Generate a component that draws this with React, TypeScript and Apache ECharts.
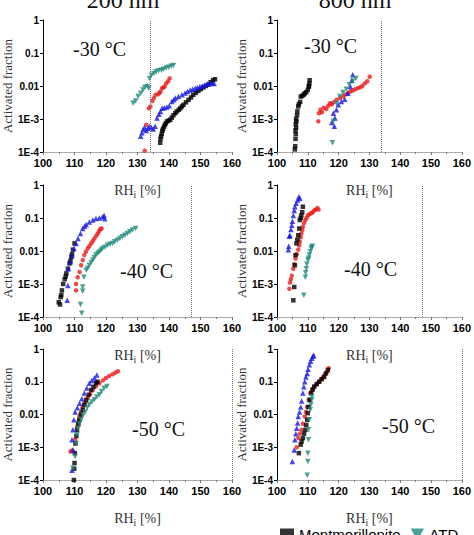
import React, { useEffect, useRef } from 'react';
import * as echarts from 'echarts';

// ---------- labels ----------
const sizeTitles = ['200 nm', '800 nm'];
const tempLabels = ['-30 °C', '-40 °C', '-50 °C'];
const waterSatRH = [134, 147, 160];
const yTickLabels: Record<string, string> = { '0': '1', '-1': '0.1', '-2': '0.01', '-3': '1E-3', '-4': '1E-4' };
const legendNames = ['Montmorillonite', 'ATD'];

// ---------- 200 nm, -30 °C ----------
const mont200_30 = [[137.2,1.9e-4],[137.3,2.5e-4],[137.5,3.0e-4],[137.7,3.6e-4],[137.9,4.4e-4],[138.1,5.0e-4],[138.4,5.8e-4],[138.7,6.6e-4],[139.0,7.5e-4],[139.4,8.5e-4],[139.9,9.0e-4],[140.4,9.5e-4],[140.9,1.1e-3],[141.4,1.3e-3],[142.0,1.5e-3],[142.5,1.7e-3],[143.1,1.9e-3],[143.6,2.1e-3],[144.1,2.4e-3],[144.6,2.7e-3],[145.4,3.2e-3],[146.2,3.8e-3],[147.0,4.5e-3],[147.7,5.4e-3],[148.5,6.2e-3],[149.3,7.1e-3],[150.1,8.0e-3],[150.9,9.0e-3],[151.7,1.0e-2],[152.5,1.1e-2],[153.2,1.3e-2],[154.0,1.5e-2],[154.6,1.6e-2]];
const ill200_30 = [[131.0,3.0e-4],[131.4,3.8e-4],[131.8,4.8e-4],[132.2,5.5e-4],[132.8,4.5e-4],[133.3,5.2e-4],[133.8,6.0e-4],[134.4,5.5e-4],[135.0,5.0e-4],[135.6,6.0e-4],[136.2,1.07e-3],[136.8,1.4e-3],[137.3,1.7e-3],[137.8,2.1e-3],[138.5,2.2e-3],[139.3,2.3e-3],[140.1,2.5e-3],[140.9,3.4e-3],[141.5,3.8e-3],[142.0,4.3e-3],[143.0,4.8e-3],[144.1,5.4e-3],[145.1,6.1e-3],[145.9,6.8e-3],[146.7,7.6e-3],[147.5,8.0e-3],[148.3,8.6e-3],[149.0,9.0e-3],[149.8,9.6e-3],[150.6,1.0e-2],[151.4,1.1e-2],[152.2,1.15e-2],[153.0,1.2e-2],[153.7,1.25e-2],[154.3,1.2e-2]];
const kaol200_30 = [[132.3,1.1e-4],[132.8,6.7e-4],[133.6,2.1e-3],[134.1,2.4e-3],[134.7,3.5e-3],[135.2,4.3e-3],[135.7,5.4e-3],[136.5,5.6e-3],[137.0,6.2e-3],[137.3,6.8e-3],[137.8,8.6e-3],[138.2,9.0e-3],[138.6,9.6e-3],[139.1,1.2e-2],[139.7,1.4e-2],[140.2,1.7e-2]];
const atd200_30 = [[128.6,3.0e-3],[129.4,3.5e-3],[130.2,4.8e-3],[131.0,6.0e-3],[131.7,7.6e-3],[132.3,9.0e-3],[133.1,9.6e-3],[133.6,8.6e-3],[133.8,1.7e-2],[134.4,2.1e-2],[135.2,2.4e-2],[135.9,2.7e-2],[136.7,2.9e-2],[137.6,3.0e-2],[138.3,3.2e-2],[139.1,3.5e-2],[139.9,3.7e-2],[140.7,4.0e-2],[141.4,4.2e-2]];

// ---------- 800 nm, -30 °C ----------
const mont800_30 = [[105.8,1.2e-4],[105.9,1.5e-4],[106.0,2.5e-4],[106.1,3.5e-4],[106.0,4.5e-4],[106.2,5.5e-4],[106.1,7.0e-4],[106.3,8.5e-4],[106.2,1.0e-3],[106.5,1.3e-3],[106.6,1.7e-3],[106.9,2.4e-3],[107.1,2.8e-3],[107.5,3.3e-3],[107.7,4.8e-3],[108.2,5.0e-3],[108.7,5.5e-3],[109.0,6.0e-3],[109.5,6.5e-3],[110.0,7.6e-3],[110.4,1.0e-2],[110.3,9.5e-3],[110.5,1.2e-2],[110.6,1.5e-2]];
const ill800_30 = [[117.8,7.9e-4],[118.6,6.0e-4],[118.8,1.07e-3],[118.3,1.5e-3],[119.3,1.9e-3],[119.9,2.7e-3],[120.9,3.4e-3],[122.0,4.0e-3],[123.0,6.0e-3],[123.8,9.6e-3],[124.3,1.5e-2],[124.6,2.2e-2]];
const kaol800_30 = [[113.4,8.5e-4],[113.6,1.5e-3],[114.1,1.9e-3],[114.6,1.6e-3],[115.2,2.2e-3],[116.0,2.0e-3],[116.6,2.5e-3],[117.2,3.0e-3],[117.8,2.8e-3],[118.3,3.2e-3],[119.3,3.8e-3],[120.4,4.3e-3],[121.4,4.8e-3],[122.2,5.5e-3],[123.0,6.0e-3],[123.8,6.8e-3],[124.6,7.3e-3],[125.4,8.0e-3],[126.2,8.6e-3],[127.0,9.2e-3],[127.7,1.0e-2],[128.5,1.2e-2],[129.3,1.4e-2],[130.1,1.9e-2]];
const atd800_30 = [[118.0,1.9e-4],[118.3,8.5e-4],[119.3,3.0e-3],[120.4,4.8e-3],[121.4,6.3e-3],[122.5,8.0e-3],[123.5,1.1e-2],[124.6,1.4e-2],[125.6,1.7e-2]];

// ---------- 200 nm, -40 °C ----------
const mont200_40 = [[105.0,2.8e-4],[105.4,2.4e-4],[105.6,4.0e-4],[105.8,4.6e-4],[106.0,6.4e-4],[106.4,1.0e-3],[106.9,1.4e-3],[107.2,1.7e-3],[107.4,2.1e-3],[107.9,2.9e-3],[108.4,4.2e-3],[108.7,5.0e-3],[109.0,6.6e-3],[109.2,8.0e-3],[109.5,1.1e-2],[110.0,1.7e-2]];
const ill200_40 = [[107.7,3.2e-4],[107.9,9.0e-4],[108.1,2.9e-3],[108.7,4.7e-3],[109.2,7.5e-3],[109.8,1.2e-2],[110.5,1.7e-2],[111.1,2.4e-2],[111.9,3.4e-2],[112.6,4.8e-2],[113.2,5.6e-2],[113.7,6.4e-2],[114.7,7.6e-2],[115.8,8.7e-2],[116.8,9.7e-2],[117.9,0.10],[118.9,0.11],[119.4,0.12],[119.6,0.095]];
const kaol200_40 = [[110.5,6.4e-4],[110.5,1.0e-3],[111.0,1.6e-3],[111.6,2.3e-3],[112.1,3.7e-3],[112.6,5.3e-3],[113.1,7.5e-3],[113.6,9.5e-3],[114.2,1.2e-2],[114.7,1.4e-2],[115.3,1.7e-2],[115.8,2.0e-2],[116.3,2.4e-2],[116.9,2.9e-2],[117.4,3.4e-2],[117.8,4.0e-2],[118.2,4.6e-2],[118.6,4.8e-2]];
const atd200_40 = [[112.3,1.3e-4],[111.9,2.4e-4],[112.6,6.0e-4],[112.6,8.1e-4],[113.0,1.6e-3],[113.7,2.6e-3],[114.2,3.0e-3],[114.7,3.7e-3],[115.3,4.5e-3],[115.8,5.3e-3],[116.3,6.3e-3],[116.8,7.5e-3],[117.4,8.5e-3],[117.9,9.4e-3],[118.4,1.05e-2],[118.9,1.2e-2],[119.7,1.3e-2],[120.5,1.5e-2],[121.3,1.6e-2],[122.1,1.7e-2],[122.8,1.9e-2],[123.6,2.1e-2],[124.4,2.4e-2],[125.2,2.7e-2],[126.0,3.0e-2],[126.8,3.4e-2],[127.6,3.8e-2],[128.4,4.3e-2],[129.4,4.8e-2]];

// ---------- 800 nm, -40 °C ----------
const mont800_40 = [[105.3,3.2e-4],[105.6,8.1e-4],[105.8,3.7e-3],[106.0,7.5e-3],[106.3,1.7e-2],[106.6,2.2e-2],[106.9,3.0e-2],[107.2,4.8e-2],[107.4,8.7e-2],[107.7,0.10],[107.9,0.12],[108.2,0.15],[108.4,0.22]];
const ill800_40 = [[103.7,1.1e-2],[103.8,1.4e-2],[104.0,2.8e-2],[104.2,3.0e-2],[104.5,4.5e-2],[104.8,6.0e-2],[105.0,8.0e-2],[105.3,0.12],[105.6,0.17],[105.8,0.22],[106.2,0.28],[106.7,0.35],[107.1,0.44],[107.4,0.40]];
const kaol800_40 = [[104.0,7.2e-4],[104.2,1.1e-3],[104.5,1.4e-3],[104.8,1.8e-3],[105.3,2.9e-3],[105.6,4.0e-3],[106.0,5.9e-3],[106.4,8.0e-3],[106.9,1.1e-2],[107.2,1.5e-2],[107.4,1.9e-2],[107.7,2.6e-2],[107.9,3.4e-2],[108.2,4.3e-2],[108.4,5.4e-2],[108.8,7.0e-2],[109.2,8.7e-2],[109.6,0.10],[110.0,0.12],[110.5,0.13],[111.1,0.14],[111.6,0.15],[112.1,0.17],[112.6,0.18],[113.1,0.20],[113.5,0.18]];
const atd800_40 = [[108.7,4.6e-4],[109.2,1.6e-3],[109.3,2.2e-3],[109.5,2.9e-3],[109.7,4.0e-3],[110.0,5.3e-3],[110.3,6.0e-3],[110.5,7.5e-3],[110.8,9.5e-3],[111.1,1.2e-2],[111.3,1.3e-2],[111.5,1.4e-2]];

// ---------- 200 nm, -50 °C ----------
const mont200_50 = [[109.8,1.0e-4],[109.9,2.2e-4],[110.0,3.3e-4],[110.1,6.6e-4],[110.3,1.3e-3],[110.6,2.2e-3],[110.8,3.4e-3],[111.2,5.0e-3],[111.5,6.9e-3],[112.0,1.0e-2],[112.6,1.4e-2],[113.1,2.0e-2],[113.7,2.8e-2],[114.5,4.0e-2],[115.3,5.6e-2],[116.0,7.0e-2],[116.8,9.0e-2],[117.3,0.10]];
const ill200_50 = [[109.2,2.0e-4],[109.5,8.3e-4],[109.2,1.7e-3],[109.5,3.4e-3],[109.8,6.9e-3],[110.2,1.2e-2],[110.9,1.6e-2],[111.6,2.2e-2],[112.3,3.0e-2],[113.1,4.5e-2],[113.9,6.5e-2],[114.7,9.0e-2],[115.5,0.11],[116.3,0.13],[117.1,0.16]];
const kaol200_50 = [[108.7,7.4e-4],[109.3,8.0e-4],[110.2,1.7e-3],[110.8,4.3e-3],[111.2,6.0e-3],[111.6,8.7e-3],[112.1,1.2e-2],[112.6,1.7e-2],[113.4,2.3e-2],[114.2,3.2e-2],[115.0,4.2e-2],[115.8,5.6e-2],[116.8,7.2e-2],[117.9,9.0e-2],[119.0,0.11],[120.0,0.13],[121.0,0.15],[122.1,0.17],[123.0,0.19],[123.8,0.21]];
const atd200_50 = [[109.5,2.3e-4],[110.2,5.2e-4],[110.5,1.3e-3],[110.8,2.4e-3],[111.1,3.8e-3],[111.6,5.2e-3],[112.1,6.9e-3],[112.7,9.5e-3],[113.4,1.2e-2],[114.0,1.6e-2],[114.7,2.0e-2],[115.5,2.4e-2],[116.3,2.8e-2],[117.1,3.4e-2],[117.9,4.0e-2],[118.6,5.0e-2],[119.4,6.3e-2],[120.3,7.1e-2]];

// ---------- 800 nm, -50 °C ----------
const mont800_50 = [[107.1,6.6e-4],[107.7,1.2e-3],[108.0,1.5e-3],[108.4,1.9e-3],[108.8,2.6e-3],[109.2,3.4e-3],[109.5,4.8e-3],[109.8,6.9e-3],[110.0,1.1e-2],[110.2,1.7e-2],[110.6,2.8e-2],[111.1,4.5e-2],[111.6,5.8e-2],[112.1,7.1e-2],[112.9,8.5e-2],[113.7,0.10],[114.5,0.12],[115.3,0.14],[115.9,0.18],[116.5,0.23]];
const ill800_50 = [[105.0,3.7e-4],[105.6,8.3e-4],[105.8,1.7e-3],[106.1,2.6e-3],[106.4,3.8e-3],[106.7,5.5e-3],[106.9,8.7e-3],[107.3,1.2e-2],[107.7,1.7e-2],[108.0,2.6e-2],[108.4,4.5e-2],[108.7,7.0e-2],[109.0,0.10],[109.4,0.14],[109.8,0.18],[110.1,0.24],[110.5,0.33],[110.9,0.42],[111.3,0.52],[111.7,0.60],[111.9,0.66]];
const kaol800_50 = [[106.4,1.0e-3],[106.9,1.9e-3],[107.4,2.6e-3],[107.9,3.4e-3],[108.4,5.2e-3],[109.0,8.7e-3],[109.4,1.2e-2],[109.8,1.7e-2],[110.3,2.8e-2],[110.8,4.5e-2],[111.4,5.8e-2],[112.1,7.1e-2],[112.9,8.5e-2],[113.7,0.10],[114.4,0.12],[115.0,0.14],[115.6,0.17],[116.3,0.20],[116.8,0.26]];
const atd800_50 = [[109.8,1.4e-4],[110.0,3.7e-4],[110.0,6.6e-4],[110.2,1.7e-3],[110.2,3.4e-3],[110.5,6.9e-3],[110.8,1.4e-2],[111.0,2.0e-2],[111.3,2.8e-2],[111.3,3.5e-2]];

// rows = temperature, cols = size
const panelSets = [
  [
    { mont: mont200_30, ill: ill200_30, kaol: kaol200_30, atd: atd200_30 },
    { mont: mont800_30, ill: ill800_30, kaol: kaol800_30, atd: atd800_30 },
  ],
  [
    { mont: mont200_40, ill: ill200_40, kaol: kaol200_40, atd: atd200_40 },
    { mont: mont800_40, ill: ill800_40, kaol: kaol800_40, atd: atd800_40 },
  ],
  [
    { mont: mont200_50, ill: ill200_50, kaol: kaol200_50, atd: atd200_50 },
    { mont: mont800_50, ill: ill800_50, kaol: kaol800_50, atd: atd800_50 },
  ],
];

// ---------- layout ----------
const colLeft = [40, 277];
const gridWidth = 192;
const rowTop = [20, 185, 349];
const rowHeight = [132, 132, 131];
const tempPos = [
  [[73, 50], [304, 47]],
  [[120, 272], [344, 270]],
  [[132, 430], [382, 427]],
];
const titleX = [123, 355];

const SERIF = 'Liberation Serif';
const SANS = 'Liberation Sans';

function buildOption() {
  const grid: any[] = [];
  const xAxis: any[] = [];
  const yAxis: any[] = [];
  const series: any[] = [];
  const graphic: any[] = [];

  for (let r = 0; r < 3; r++) {
    for (let c = 0; c < 2; c++) {
      const i = r * 2 + c;
      const d = panelSets[r][c];
      grid.push({ left: colLeft[c], top: rowTop[r], width: gridWidth, height: rowHeight[r] });
      xAxis.push({
        gridIndex: i,
        type: 'value',
        min: 100,
        max: 160,
        interval: 10,
        name: 'RH{s|i} [%]',
        nameLocation: 'middle',
        nameGap: 30,
        nameTextStyle: {
          fontFamily: SERIF,
          fontSize: 14,
          color: '#333',
          rich: { s: { fontFamily: SERIF, fontSize: 10, color: '#333', padding: [7, 0, 0, 0] } },
        },
        axisLine: { lineStyle: { color: '#aaa' } },
        axisTick: { length: 3, lineStyle: { color: '#777' } },
        minorTick: { show: true, splitNumber: 2, length: 2, lineStyle: { color: '#777' } },
        splitLine: { show: false },
        axisLabel: { fontFamily: SANS, fontWeight: 'bold', fontSize: 11, color: '#000', margin: 5 },
      });
      yAxis.push({
        gridIndex: i,
        type: 'log',
        logBase: 10,
        min: 1e-4,
        max: 1,
        name: 'Activated fraction',
        nameLocation: 'middle',
        nameGap: 27,
        nameTextStyle: { fontFamily: SERIF, fontSize: 13, color: '#333' },
        axisLine: { show: true, lineStyle: { color: '#000' } },
        axisTick: { show: true, length: 3, lineStyle: { color: '#000' } },
        splitLine: { show: false },
        axisLabel: {
          fontFamily: SANS,
          fontWeight: 'bold',
          fontSize: 10,
          color: '#000',
          margin: 4,
          formatter: (v: number) => yTickLabels[String(Math.round(Math.log10(v)))] ?? '',
        },
      });
      const common = { type: 'scatter', xAxisIndex: i, yAxisIndex: i, silent: true };
      series.push({
        ...common,
        name: 'Kaolinite',
        data: d.kaol,
        symbol: 'circle',
        symbolSize: 4.5,
        itemStyle: { color: '#ee1c1c' },
        markLine: {
          silent: true,
          symbol: 'none',
          label: { show: false },
          lineStyle: { type: 'dotted', color: '#777', width: 1 },
          data: [{ xAxis: waterSatRH[r] }],
        },
      });
      series.push({
        ...common,
        name: 'Montmorillonite',
        data: d.mont,
        symbol: 'rect',
        symbolSize: 4.5,
        itemStyle: { color: '#000' },
      });
      series.push({
        ...common,
        name: 'Illite',
        data: d.ill,
        symbol: 'triangle',
        symbolSize: 5.5,
        itemStyle: { color: '#1515e8' },
      });
      series.push({
        ...common,
        name: 'ATD',
        data: d.atd,
        symbol: 'triangle',
        symbolRotate: 180,
        symbolSize: 5.5,
        itemStyle: { color: '#1e8a7c' },
      });
      graphic.push({
        type: 'text',
        left: tempPos[r][c][0],
        top: tempPos[r][c][1] - 11,
        style: { text: tempLabels[r], font: `20px "${SERIF}"`, fill: '#111' },
      });
    }
  }
  for (let c = 0; c < 2; c++) {
    graphic.push({
      type: 'text',
      x: titleX[c],
      y: 12,
      style: {
        text: sizeTitles[c],
        font: `24px "${SERIF}"`,
        fill: '#111',
        textAlign: 'center',
        textVerticalAlign: 'bottom',
      },
    });
  }

  return {
    animation: false,
    backgroundColor: '#fff',
    grid,
    xAxis,
    yAxis,
    series,
    graphic,
    legend: {
      data: [
        { name: legendNames[0], icon: 'rect' },
        { name: legendNames[1], icon: 'path://M0,0 L10,0 L5,9 Z' },
      ],
      left: 275,
      top: 522,
      itemWidth: 14,
      itemHeight: 12,
      itemGap: 10,
      textStyle: { fontFamily: SANS, fontSize: 15, color: '#000' },
    },
  };
}

export default function App() {
  const ref = useRef<HTMLDivElement>(null);
  useEffect(() => {
    document.body.style.margin = '0';
    if (!ref.current) return;
    const chart = echarts.init(ref.current, undefined, { renderer: 'svg' });
    chart.setOption(buildOption() as any);
    return () => chart.dispose();
  }, []);
  return <div ref={ref} style={{ width: 474, height: 535 }} />;
}
